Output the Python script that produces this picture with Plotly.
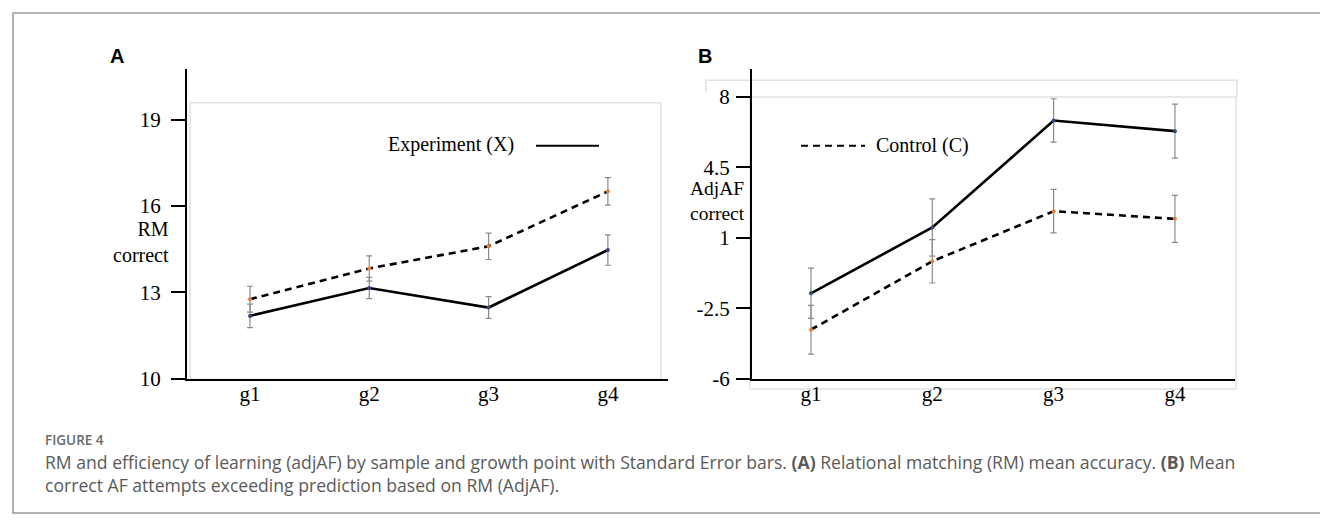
import plotly.graph_objects as go

groups = ["g1", "g2", "g3", "g4"]

# Panel A: RM correct
rm_exp = [12.18, 13.15, 12.47, 14.47]
rm_exp_se = [0.41, 0.37, 0.38, 0.53]
rm_ctl = [12.76, 13.83, 14.60, 16.51]
rm_ctl_se = [0.45, 0.44, 0.46, 0.48]

# Panel B: AdjAF correct
af_exp = [-1.76, 1.51, 6.83, 6.30]
af_exp_se = [1.25, 1.42, 1.08, 1.34]
af_ctl = [-3.57, -0.17, 2.32, 1.94]
af_ctl_se = [1.21, 1.08, 1.08, 1.17]

yticks_a = [10, 13, 16, 19]
yticks_b = [-6, -2.5, 1, 4.5, 8]

W, H = 1328, 522
def px(x):
    return x / W
def py(y):
    return 1 - y / H

EXP_COL = "#34497a"
CTL_COL = "#e8803a"
ERR = dict(type="data", color="#8a8a8a", thickness=1.2, width=3)

fig = go.Figure()

def add_series(y, se, xa, ya, dash, mcol):
    e = dict(ERR)
    e["array"] = se
    fig.add_trace(go.Scatter(
        x=groups, y=y, xaxis=xa, yaxis=ya, mode="lines+markers",
        line=dict(color="black", width=2.6, dash=dash),
        marker=dict(color=mcol, size=4),
        error_y=e, showlegend=False, hoverinfo="skip"))

add_series(rm_exp, rm_exp_se, "x", "y", "solid", EXP_COL)
add_series(rm_ctl, rm_ctl_se, "x", "y", "7px,5px", CTL_COL)
add_series(af_exp, af_exp_se, "x2", "y2", "solid", EXP_COL)
add_series(af_ctl, af_ctl_se, "x2", "y2", "7px,5px", CTL_COL)

serif = "Liberation Serif"
axis_common = dict(showgrid=False, zeroline=False, showline=True, linecolor="black",
                   linewidth=2, tickfont=dict(family=serif, size=21, color="black"))

fig.update_layout(
    width=W, height=H, margin=dict(l=0, r=0, t=0, b=0),
    paper_bgcolor="white", plot_bgcolor="rgba(0,0,0,0)",
    xaxis=dict(domain=[px(179), px(660)], type="category", range=[-0.528, 3.504],
               ticks="", anchor="y", ticklabelstandoff=-5, **axis_common),
    yaxis=dict(domain=[py(379.3), py(62)], range=[10, 20.78], tickvals=yticks_a,
               ticks="outside", ticklen=14, tickwidth=1.6, tickcolor="black",
               anchor="x", ticklabelstandoff=6, **axis_common),
    xaxis2=dict(domain=[px(744), px(1227)], type="category", range=[-0.486, 3.495],
                ticks="", anchor="y2", ticklabelstandoff=-5, **axis_common),
    yaxis2=dict(domain=[py(379.3), py(62)], range=[-6, 9.41], tickvals=yticks_b,
                ticktext=[str(v) for v in yticks_b],
                ticks="outside", ticklen=14, tickwidth=1.6, tickcolor="black",
                anchor="x2", ticklabelstandoff=2, **axis_common),
)

shapes = []
light = dict(color="#e2e2e2", width=1.5)
# panel frames (light gray)
shapes.append(dict(type="rect", xref="paper", yref="paper", x0=px(182), x1=px(653),
                   y0=py(380), y1=py(97), line=light, layer="below"))
shapes.append(dict(type="rect", xref="paper", yref="paper", x0=px(742), x1=px(1228),
                   y0=py(390), y1=py(91), line=light, layer="below"))
shapes.append(dict(type="path", xref="paper", yref="paper",
                   path=f"M {px(698)} {py(86)} L {px(698)} {py(74)} L {px(1229)} {py(74)} L {px(1229)} {py(91)}",
                   line=light, layer="below"))
# outer border
shapes.append(dict(type="rect", xref="paper", yref="paper", x0=px(5), x1=px(1324),
                   y0=py(517), y1=py(5), line=dict(color="#9a9a9a", width=1.5)))
# legend lines
shapes.append(dict(type="line", xref="paper", yref="paper", x0=px(528), x1=px(591),
                   y0=py(141), y1=py(141), line=dict(color="black", width=2)))
shapes.append(dict(type="line", xref="paper", yref="paper", x0=px(793), x1=px(857),
                   y0=py(141), y1=py(141), line=dict(color="black", width=2, dash="7px,5px")))
fig.update_layout(shapes=shapes)

ann = []
def text(x, y, s, size, family=serif, color="black", xanchor="center", align="center", weight=None):
    f = dict(family=family, size=size, color=color)
    if weight:
        f["weight"] = weight
    ann.append(dict(x=px(x), y=py(y), xref="paper", yref="paper", text=s, showarrow=False,
                    xanchor=xanchor, yanchor="middle", align=align, font=f))

text(109, 49, "<b>A</b>", 20, family="Liberation Sans")
text(697, 49, "<b>B</b>", 20, family="Liberation Sans")
text(163, 239, "RM<br>correct", 20, xanchor="right", align="right")
text(680, 198, "AdjAF<br>correct", 19.5, xanchor="left", align="left")
text(378, 140, "Experiment (X)", 20, xanchor="left")
text(866, 141, "Control (C)", 20, xanchor="left")

cap_font = "Open Sans"
text(35, 442, "FIGURE 4", 13.5, family=cap_font, color="#6a6a6a", xanchor="left", weight=600)
text(35, 465, "RM and efficiency of learning (adjAF) by sample and growth point with Standard Error bars. "
     "<b>(A)</b> Relational matching (RM) mean accuracy. <b>(B)</b> Mean",
     17.6, family=cap_font, color="#5a5a5a", xanchor="left", align="left")
text(35, 488, "correct AF attempts exceeding prediction based on RM (AdjAF).",
     17.6, family=cap_font, color="#5a5a5a", xanchor="left", align="left")

fig.update_layout(annotations=ann)
fig.write_html("out.html")
